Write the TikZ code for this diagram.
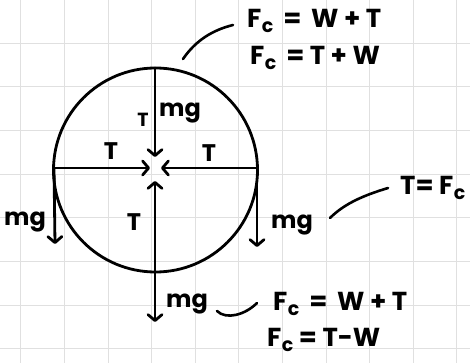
\documentclass[tikz,border=0pt]{standalone}
\usepackage{fontspec}
\setmainfont{Poppins}
\usetikzlibrary{arrows.meta}
\newcommand{\Fc}{F\kern0.5pt\raisebox{-0.35ex}{\fontsize{19}{19}\selectfont c}}
\begin{document}
\begin{tikzpicture}[x=1pt,y=-1pt,
  gridline/.style={draw=black!12, line width=0.8pt},
  stroke/.style={line width=2.8pt, line cap=round},
  force/.style={stroke, -{Straight Barb[length=6pt,width=14pt,round]}},
  biforce/.style={stroke, {Straight Barb[length=6pt,width=14pt,round]}-{Straight Barb[length=6pt,width=14pt,round]}},
  lead/.style={line width=2.6pt, line cap=round},
  lbl/.style={inner sep=0pt, font=\fontsize{24}{28}\selectfont\bfseries},
  slbl/.style={inner sep=0pt, font=\fontsize{19}{22}\selectfont\bfseries},
  eq/.style={inner sep=0pt, font=\fontsize{26}{30}\selectfont\bfseries}]
\useasboundingbox (0,0) rectangle (470,363);
\fill[white] (0,0) rectangle (470,363);
% grid
\foreach \k in {0,...,10} \draw[gridline] ({20.7+43.6*\k},0) -- ({20.7+43.6*\k},363);
\foreach \k in {0,...,7} \draw[gridline] (0,{43.3+43.6*\k}) -- (470,{43.3+43.6*\k});
% circle
\coordinate (O) at (155.5,170);
\draw[stroke] (O) circle[radius=102pt];
% key points
\coordinate (top) at (155,68);
\coordinate (left) at (54,168);
\coordinate (right) at (257,168);
\coordinate (hl) at (150,168);
\coordinate (hr) at (161,168);
\coordinate (vt) at (155,157);
\coordinate (vb) at (155,181);
\coordinate (bot) at (155,322);
\coordinate (lmg) at (55,244);
\coordinate (rmg) at (257,247);
\draw[force] (left) -- (hl);
\draw[force] (right) -- (hr);
\draw[force] (top) -- (vt);
\draw[biforce] (vb) -- (bot);
\draw[force] (left) -- (lmg);
\draw[force] (right) -- (rmg);
% labels
\node[slbl] (t1) at (143,120) {T};
\node[lbl] (m1) at (180,113) {mg};
\node[lbl] (t2) at (111,151) {T};
\node[lbl] (t3) at (209,153) {T};
\node[lbl] (t4) at (134,222) {T};
\node[lbl] (m2) at (25,222) {mg};
\node[lbl] (m3) at (292,225) {mg};
\node[lbl] (m4) at (187,304) {mg};
% equations
\node[eq, anchor=west] (e1) at (247,21) {\Fc\ \,=\ \,W\ +\ T};
\node[eq, anchor=west] (e2) at (250,58) {\Fc\ \,=\ T\ +\ W};
\node[eq, anchor=west] (e3) at (400,188) {T= \Fc};
\node[eq, anchor=west] (e4) at (273,304) {\Fc\ \,=\ \,W\ +\ T};
\node[eq, anchor=west] (e5) at (267,340) {\Fc\ = T-W};
% leader curves
\coordinate (c1a) at (183,59); \coordinate (c1b) at (233,25);
\coordinate (c2a) at (330,218); \coordinate (c2b) at (388,188);
\coordinate (c3a) at (217,311); \coordinate (c3b) at (257,303);
\draw[lead] (c1a) .. controls (196,40) and (213,30) .. (c1b);
\draw[lead] (c2a) .. controls (345,203) and (365,195) .. (c2b);
\draw[lead] (c3a) .. controls (226,320) and (245,315) .. (c3b);
\end{tikzpicture}
\end{document}
